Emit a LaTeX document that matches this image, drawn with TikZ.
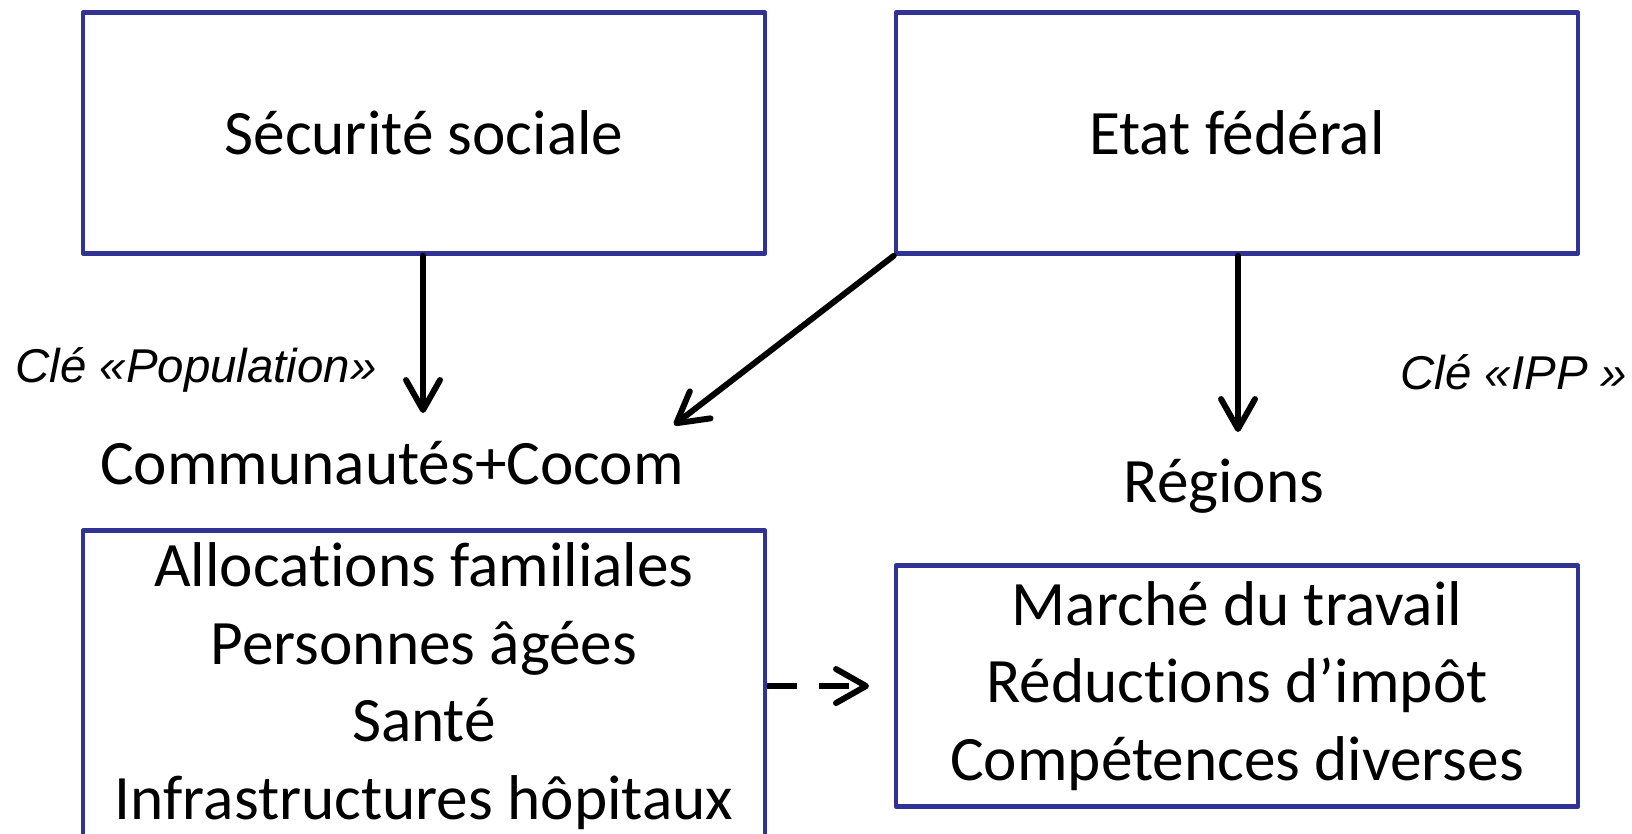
\documentclass[tikz,border=0pt]{standalone}
\usepackage{fontspec}
\setmainfont{Carlito}[Ligatures = NoCommon]
\newfontfamily\keyfont{Liberation Sans}
\usetikzlibrary{arrows.meta}

\definecolor{boxblue}{RGB}{48,50,148}
% t and i kept apart (no ligature)
\newcommand{\tiapart}{t\kern0pt i}

\begin{document}
\begin{tikzpicture}[auto, line join=round,
box/.style = { rectangle, draw = boxblue, line width = 1.3pt, minimum width = 6.82cm,
 minimum height = 2.41cm, align = center, font = \fontsize{18}{22.1}\selectfont },
title/.style = { font = \fontsize{18}{22.1}\selectfont },
key/.style = { font = \keyfont\itshape\fontsize{13.5}{16}\selectfont },
arc_ori/.style = { color = black, line width = 1.7pt, line cap = round,
 -{Straight Barb[length = 3mm, width = 3.4mm, round]} },
arc_dash/.style = { arc_ori, line cap = butt, dash pattern = on 8.5pt off 6.2pt }]
\useasboundingbox (0,0) rectangle (16.32,-8.33);
\node[box] (secu) at (4.24,-1.33) {Sécurité sociale};
\node[box] (etat) at (12.37,-1.33) {Etat fédéral};
\node[box, minimum height = 2.98cm] (comp_com) at (4.24,-6.86)
 {Alloca\tiapart ons familiales\\Personnes âgées\\Santé\\Infrastructures hôpitaux};
\node[box] (comp_reg) at (12.37,-6.86)
 {Marché du travail\\Réduc\tiapart ons d’impôt\\Compétences diverses};
\node[title] (com) at (3.92,-4.63) {Communautés+Cocom};
\node[title] (reg) at (12.24,-4.86) {Régions};
\node[key] (cle_pop) at (1.96,-3.70) {Clé «Population»};
\node[key] (cle_ipp) at (15.14,-3.72) {Clé «IPP »};
\coordinate (end_secu) at (4.23,-4.13);
\coordinate (end_diag) at (6.74,-4.25);
\coordinate (end_etat) at (12.38,-4.32);
\coordinate (end_dash) at (8.69,-6.86);
\draw[arc_ori] (secu.south -| end_secu) -- (end_secu);
\draw[arc_ori] (etat.south west) -- (end_diag);
\draw[arc_ori] (etat.south -| end_etat) -- (end_etat);
\draw[arc_dash] (comp_com.east) -- (end_dash);
\end{tikzpicture}
\end{document}
